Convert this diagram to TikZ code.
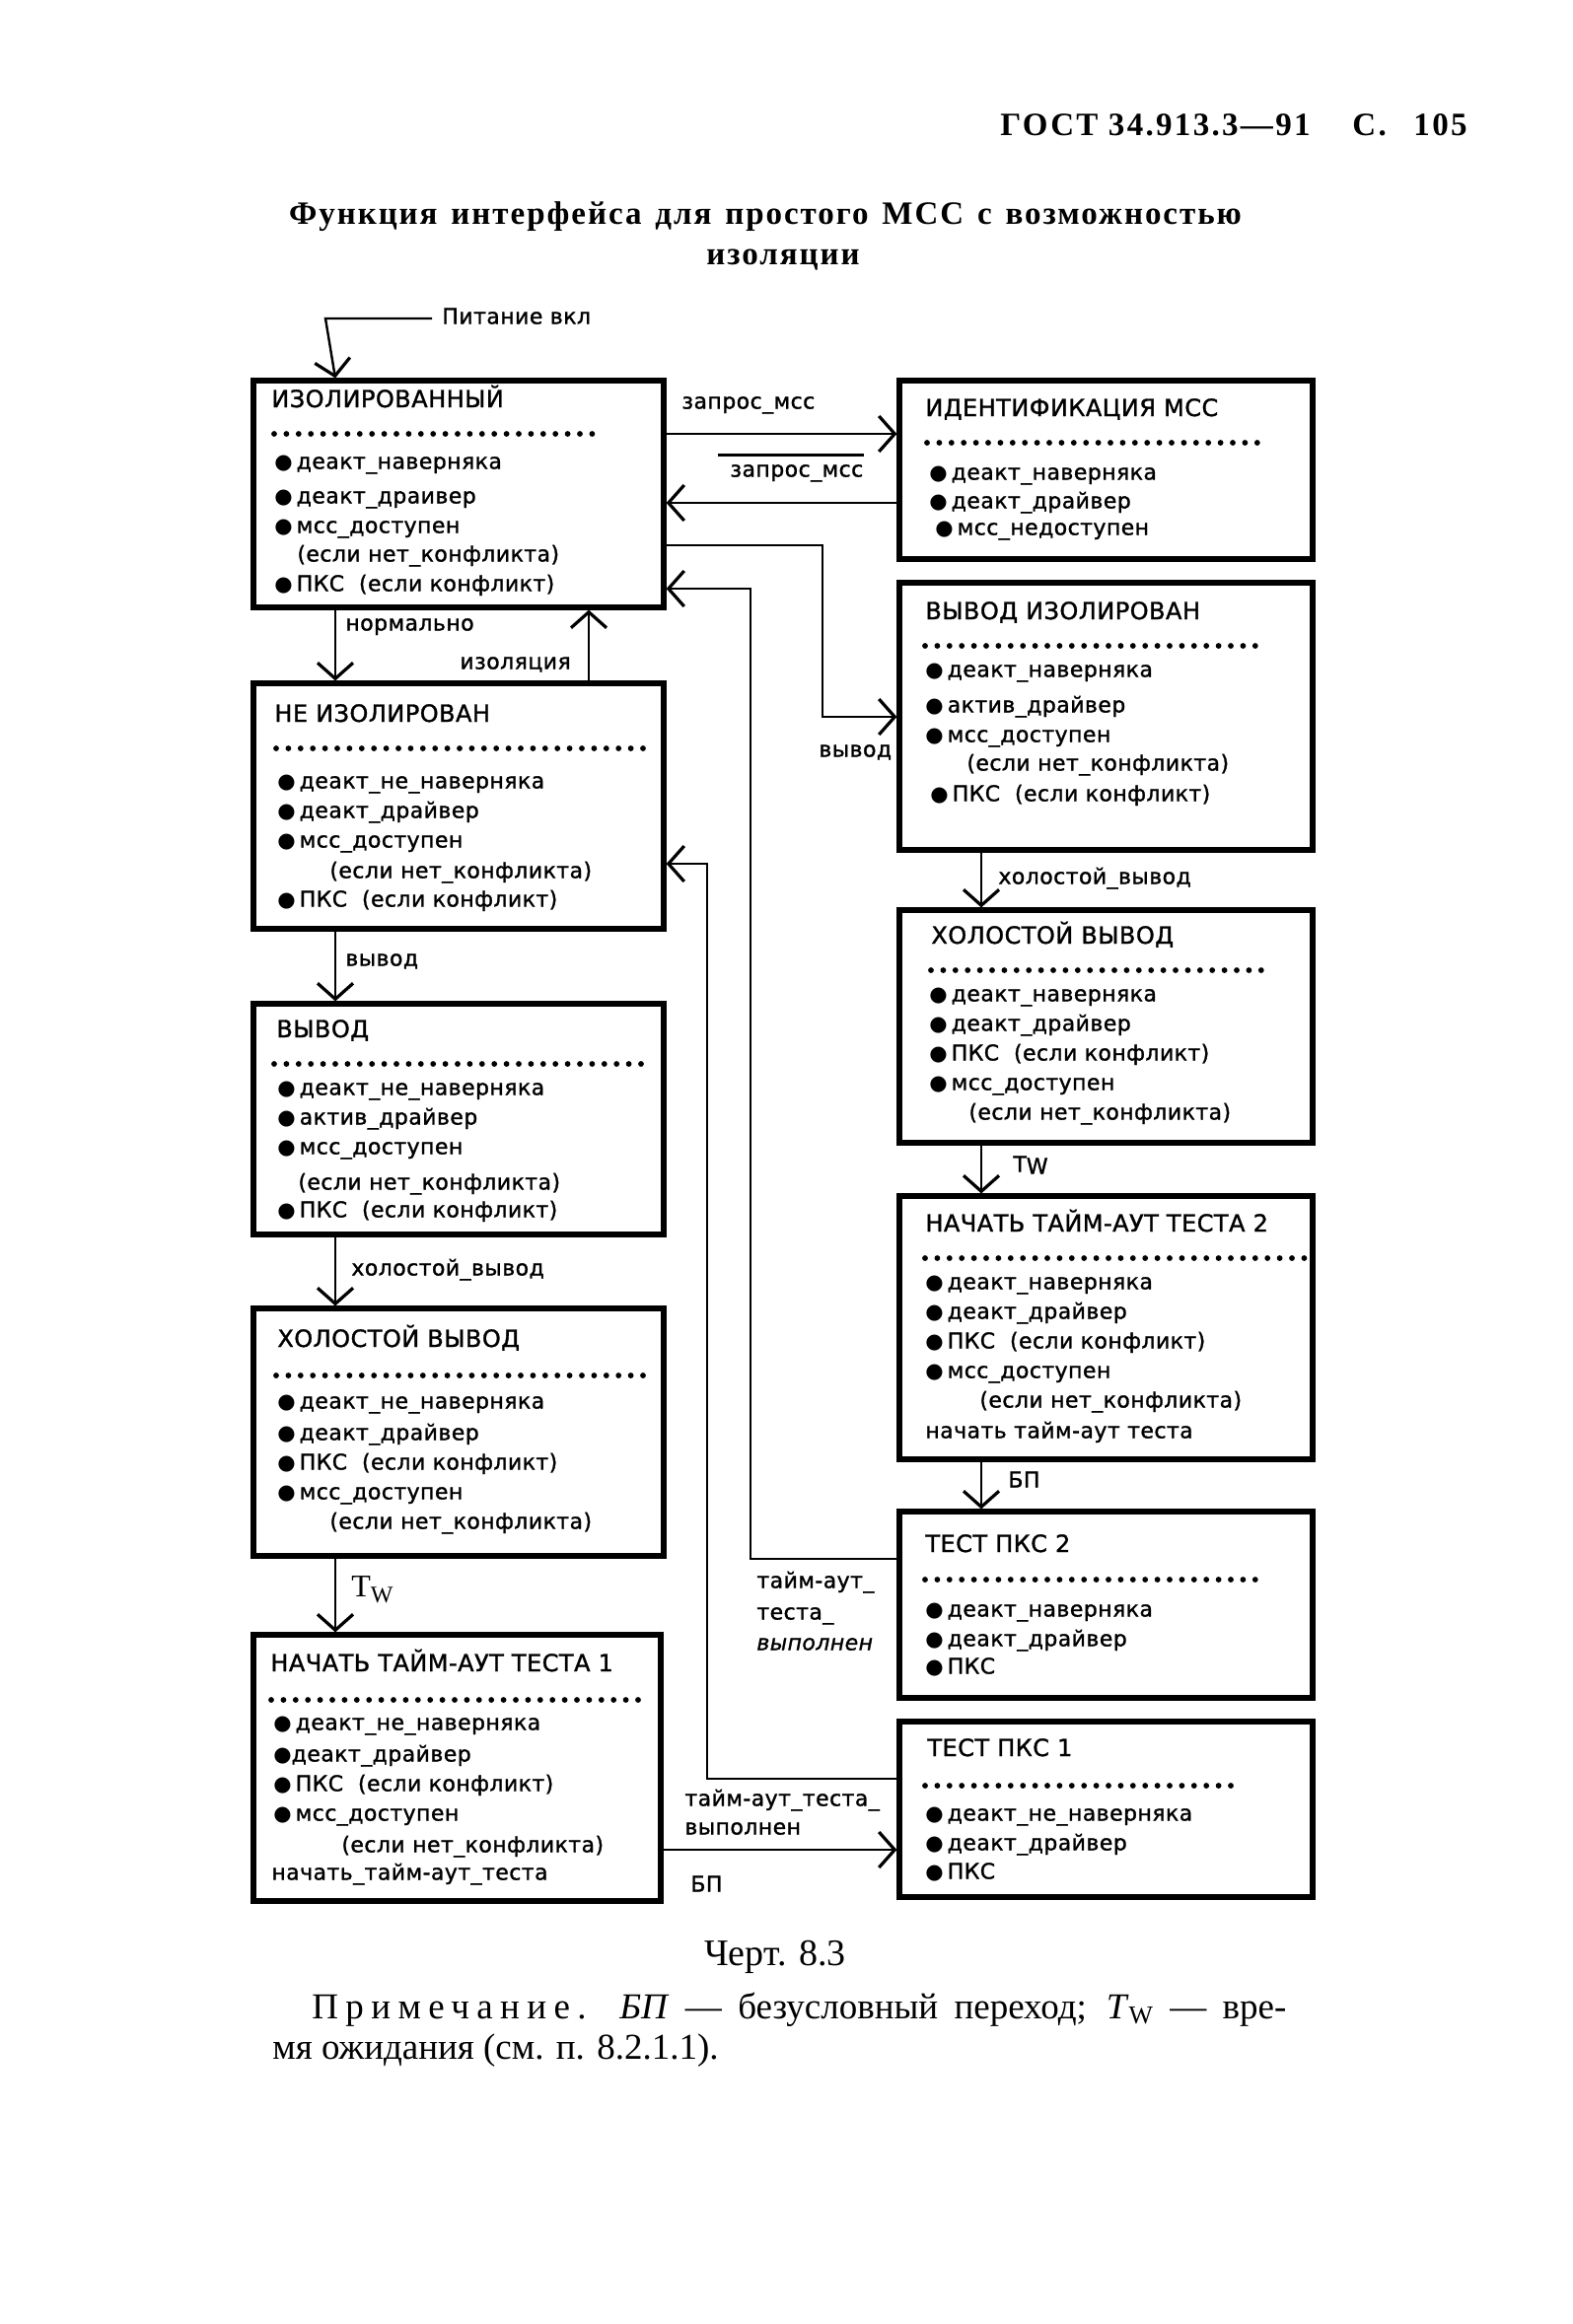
\documentclass[tikz,border=0pt]{standalone}
\usepackage{fontspec}
\setmainfont{Liberation Serif}
\newfontfamily\bxf[LetterSpace=2,FakeBold=1.3]{DejaVu Sans}
\newfontfamily\bulf{DejaVu Sans}
\newfontfamily\spacedf[LetterSpace=20]{Liberation Serif}
\newfontfamily\ttlfam[LetterSpace=6]{Liberation Serif}
\newfontfamily\hdrfam[LetterSpace=7]{Liberation Serif}
\usetikzlibrary{arrows.meta}

\newcommand\bul{{\bulf\fontsize{10.5}{10}\selectfont ●}\hspace{2pt}}
\newcommand\mkbox[5]{\node[box, minimum width={(#4-#2)*0.5pt}, minimum height={(#5-#3)*0.5pt}] (#1) at ({(#2+#4)/2},{(#3+#5)/2}) {};}

\tikzset{
  box/.style={draw, line width=2.6pt, inner sep=0pt},
  conn/.style={line width=1.2pt},
  arr/.style={conn, -{Straight Barb[length=8pt,width=18pt,line width=1.6pt]}},
  ttl/.style={font=\bxf\fontsize{12}{14}\selectfont, anchor=west, inner sep=0pt, text height=9pt, text depth=0pt},
  itm/.style={font=\bxf\fontsize{11}{13}\selectfont, anchor=west, inner sep=0pt, text height=8pt, text depth=2.5pt},
  lab/.style={itm},
  dotl/.style={line width=2.9pt, line cap=round, dash pattern=on 0pt off 6.2pt},
  hdr/.style={font=\hdrfam\bfseries\fontsize{16.5}{18}\selectfont, inner sep=0pt},
  ttlf/.style={font=\ttlfam\bfseries\fontsize{16.5}{19}\selectfont, inner sep=0pt},
  notef/.style={font=\fontsize{18.5}{20}\selectfont, inner sep=0pt, anchor=west},
}

\begin{document}
\begin{tikzpicture}[x=0.5pt,y=-0.5pt]
\useasboundingbox (0,0) rectangle (1595,2357);
\fill[white] (0,0) rectangle (1595,2357);

% header
\node[hdr, anchor=west] (hg) at (1014,127) {ГОСТ 34.913.3—91};
\node[hdr, anchor=west] (hc) at (1371,127) {С.};
\node[hdr, anchor=east] (hp) at (1488,127) {105};

% title
\node[ttlf] (tt1) at (776,220) {\makebox[483pt][s]{Функция интерфейса для простого МСС с возможностью}};
\node[ttlf] (tt2) at (794,264) {изоляции};

% boxes
\mkbox{b1}{257}{386}{673}{616}
\mkbox{bA}{912}{386}{1331}{567}
\mkbox{bB}{912}{591}{1331}{862}
\mkbox{b2}{257}{693}{673}{942}
\mkbox{b3}{257}{1018}{673}{1252}
\mkbox{b4}{257}{1327}{673}{1578}
\mkbox{b5}{257}{1658}{670}{1928}
\mkbox{bC}{912}{923}{1331}{1159}
\mkbox{bD}{912}{1213}{1331}{1480}
\mkbox{bE}{912}{1533}{1331}{1722}
\mkbox{bF}{912}{1746}{1331}{1924}

% box 1
\node[ttl] (b1t) at (275,404) {ИЗОЛИРОВАННЫЙ};
\draw[dotl] (278,440) -- (612,440);
\node[itm] (b1i1) at (278,470) {\bul деакт\_наверняка};
\node[itm] (b1i2) at (278,505) {\bul деакт\_драивер};
\node[itm] (b1i3) at (278,535) {\bul мсс\_доступен};
\node[itm] (b1i4) at (301,564) {(если нет\_конфликта)};
\node[itm] (b1i5) at (278,594) {\bul ПКС\ \ (если конфликт)};

% box A
\node[ttl] (bAt) at (938,413) {ИДЕНТИФИКАЦИЯ МСС};
\draw[dotl] (940,449) -- (1278,449);
\node[itm] (bAi1) at (942,481) {\bul деакт\_наверняка};
\node[itm] (bAi2) at (942,510) {\bul деакт\_драйвер};
\node[itm] (bAi3) at (948,537) {\bul мсс\_недоступен};

% box B
\node[ttl] (bBt) at (938,619) {ВЫВОД ИЗОЛИРОВАН};
\draw[dotl] (938,655) -- (1285,655);
\node[itm] (bBi1) at (938,681) {\bul деакт\_наверняка};
\node[itm] (bBi2) at (938,717) {\bul актив\_драйвер};
\node[itm] (bBi3) at (938,747) {\bul мсс\_доступен};
\node[itm] (bBi4) at (980,776) {(если нет\_конфликта)};
\node[itm] (bBi5) at (943,807) {\bul ПКС\ \ (если конфликт)};

% box 2
\node[ttl] (b2t) at (278,723) {НЕ ИЗОЛИРОВАН};
\draw[dotl] (280,759) -- (661,759);
\node[itm] (b2i1) at (281,794) {\bul деакт\_не\_наверняка};
\node[itm] (b2i2) at (281,824) {\bul деакт\_драйвер};
\node[itm] (b2i3) at (281,854) {\bul мсс\_доступен};
\node[itm] (b2i4) at (334,885) {(если нет\_конфликта)};
\node[itm] (b2i5) at (281,914) {\bul ПКС\ \ (если конфликт)};

% box 3
\node[ttl] (b3t) at (280,1043) {ВЫВОД};
\draw[dotl] (278,1079) -- (658,1079);
\node[itm] (b3i1) at (281,1105) {\bul деакт\_не\_наверняка};
\node[itm] (b3i2) at (281,1135) {\bul актив\_драйвер};
\node[itm] (b3i3) at (281,1165) {\bul мсс\_доступен};
\node[itm] (b3i4) at (302,1201) {(если нет\_конфликта)};
\node[itm] (b3i5) at (281,1229) {\bul ПКС\ \ (если конфликт)};

% box 4
\node[ttl] (b4t) at (281,1357) {ХОЛОСТОЙ ВЫВОД};
\draw[dotl] (280,1395) -- (658,1395);
\node[itm] (b4i1) at (281,1423) {\bul деакт\_не\_наверняка};
\node[itm] (b4i2) at (281,1455) {\bul деакт\_драйвер};
\node[itm] (b4i3) at (281,1485) {\bul ПКС\ \ (если конфликт)};
\node[itm] (b4i4) at (281,1515) {\bul мсс\_доступен};
\node[itm] (b4i5) at (334,1545) {(если нет\_конфликта)};

% box 5
\node[ttl] (b5t) at (274,1686) {НАЧАТЬ ТАЙМ-АУТ ТЕСТА 1};
\draw[dotl] (275,1724) -- (654,1724);
\node[itm] (b5i1) at (277,1749) {\bul деакт\_не\_наверняка};
\node[itm] (b5i2) at (277,1781) {{\bulf\fontsize{10.5}{10}\selectfont ●}деакт\_драйвер};
\node[itm] (b5i3) at (277,1811) {\bul ПКС\ \ (если конфликт)};
\node[itm] (b5i4) at (277,1841) {\bul мсс\_доступен};
\node[itm] (b5i5) at (346,1873) {(если нет\_конфликта)};
\node[itm] (b5i6) at (275,1901) {начать\_тайм-аут\_теста};

% box C
\node[ttl] (bCt) at (944,948) {ХОЛОСТОЙ ВЫВОД};
\draw[dotl] (944,984) -- (1290,984);
\node[itm] (bCi1) at (942,1010) {\bul деакт\_наверняка};
\node[itm] (bCi2) at (942,1040) {\bul деакт\_драйвер};
\node[itm] (bCi3) at (942,1070) {\bul ПКС\ \ (если конфликт)};
\node[itm] (bCi4) at (942,1100) {\bul мсс\_доступен};
\node[itm] (bCi5) at (982,1130) {(если нет\_конфликта)};

% box D
\node[ttl] (bDt) at (938,1240) {НАЧАТЬ ТАЙМ-АУТ ТЕСТА 2};
\draw[dotl] (938,1276) -- (1323,1276);
\node[itm] (bDi1) at (938,1302) {\bul деакт\_наверняка};
\node[itm] (bDi2) at (938,1332) {\bul деакт\_драйвер};
\node[itm] (bDi3) at (938,1362) {\bul ПКС\ \ (если конфликт)};
\node[itm] (bDi4) at (938,1392) {\bul мсс\_доступен};
\node[itm] (bDi5) at (993,1422) {(если нет\_конфликта)};
\node[itm] (bDi6) at (938,1453) {начать тайм-аут теста};

% box E
\node[ttl] (bEt) at (938,1565) {ТЕСТ ПКС 2};
\draw[dotl] (938,1602) -- (1278,1602);
\node[itm] (bEi1) at (938,1634) {\bul деакт\_наверняка};
\node[itm] (bEi2) at (938,1664) {\bul деакт\_драйвер};
\node[itm] (bEi3) at (938,1692) {\bul ПКС};

% box F
\node[ttl] (bFt) at (940,1772) {ТЕСТ ПКС 1};
\draw[dotl] (938,1811) -- (1250,1811);
\node[itm] (bFi1) at (938,1841) {\bul деакт\_не\_наверняка};
\node[itm] (bFi2) at (938,1871) {\bul деакт\_драйвер};
\node[itm] (bFi3) at (938,1900) {\bul ПКС};

% coordinates for vertical connectors
\coordinate (xl) at (340,0);
\coordinate (xi) at (597,0);
\coordinate (xr) at (995,0);

% power on
\node[lab] (pw) at (448,323) {Питание вкл};
\draw[arr] ([xshift=-5pt]pw.west) -- ([xshift=-5pt]pw.west -| xl) -- (b1.north -| xl);

% vertical arrows
\draw[arr] (b1.south -| xl) -- (b2.north -| xl);
\draw[arr] (b2.north -| xi) -- (b1.south -| xi);
\draw[arr] (b2.south -| xl) -- (b3.north -| xl);
\draw[arr] (b3.south -| xl) -- (b4.north -| xl);
\draw[arr] (b4.south -| xl) -- (b5.north -| xl);
\draw[arr] (bB.south -| xr) -- (bC.north -| xr);
\draw[arr] (bC.south -| xr) -- (bD.north -| xr);
\draw[arr] (bD.south -| xr) -- (bE.north -| xr);

% horizontal connectors
\draw[arr] (b1.east |- 0,440) -- (bA.west |- 0,440);
\draw[arr] (bA.west |- 0,510) -- (b1.east |- 0,510);
\draw[arr] (b1.east |- 0,553) -- (834,553) -- (834,727) -- (bB.west |- 0,727);
\draw[arr] (bE.west |- 0,1581) -- (761,1581) -- (761,597) -- (b1.east |- 0,597);
\draw[arr] (bF.west |- 0,1804) -- (717,1804) -- (717,876) -- (b2.east |- 0,876);
\draw[arr] (b5.east |- 0,1876) -- (bF.west |- 0,1876);

% labels
\node[lab] (lq1) at (691,409) {запрос\_мсс};
\node[lab] (lq2) at (740,478) {запрос\_мсс};
\draw[line width=1.6pt] ([xshift=-6pt,yshift=3pt]lq2.north west) -- ([yshift=3pt]lq2.north east);
\node[lab] (lv1) at (830,762) {вывод};
\node[lab] (ln) at (350,634) {нормально};
\node[lab] (li) at (466,673) {изоляция};
\node[lab] (lv2) at (350,974) {вывод};
\node[lab] (lh1) at (356,1288) {холостой\_вывод};
\node[lab, font=\fontsize{16}{16}\selectfont] (lt1) at (356,1614) {T\raisebox{-3pt}{\fontsize{12}{12}\selectfont W}};
\node[lab] (lh2) at (1012,891) {холостой\_вывод};
\node[lab] (lt2) at (1027,1183) {T\raisebox{-1pt}{W}};
\node[lab] (lb1) at (1022,1503) {БП};
\node[lab] (la1) at (767,1605) {тайм-аут\_};
\node[lab] (la2) at (767,1637) {теста\_};
\node[lab] (la3) at (767,1668) {\itshape выполнен};
\node[lab] (lc1) at (694,1826) {тайм-аут\_теста\_};
\node[lab] (lc2) at (694,1855) {выполнен};
\node[lab] (lb2) at (700,1913) {БП};

% caption and note
\node[notef, anchor=center, font=\fontsize{19}{20}\selectfont] (cap) at (786,1985) {Черт. 8.3};
\node[notef] (n1) at (316,2038) {\makebox[494pt][s]{{\spacedf Примечание.} \textit{БП}~— безусловный переход; \textit{T}\textsubscript{W}~— вре-}};
\node[notef] (n2) at (276,2080) {мя ожидания (см. п. 8.2.1.1).};
\end{tikzpicture}
\end{document}
